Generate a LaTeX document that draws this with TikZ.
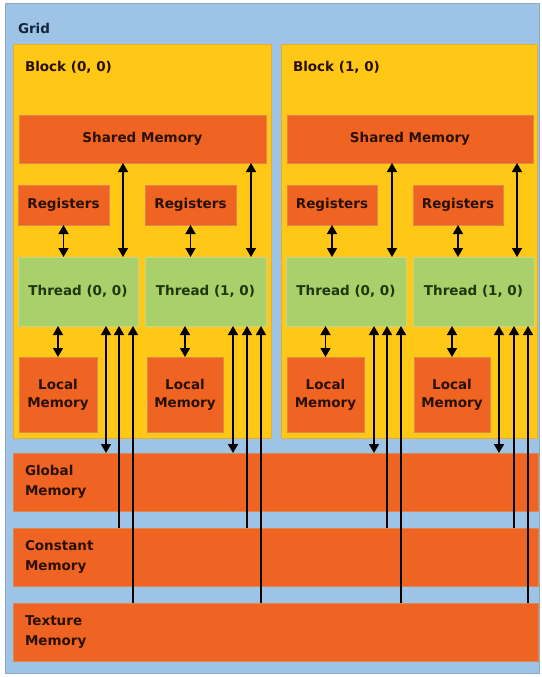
\documentclass[tikz,border=0pt]{standalone}
\usepackage{fontspec}
\setmainfont{DejaVu Sans}
\usetikzlibrary{arrows.meta}
\definecolor{gridblue}{HTML}{9DC3E6}
\definecolor{gridline}{HTML}{8FA9C4}
\definecolor{blockyel}{HTML}{FFC816}
\definecolor{blockline}{HTML}{E0AE30}
\definecolor{memorg}{HTML}{F06423}
\definecolor{memline}{HTML}{E0874E}
\definecolor{thrgrn}{HTML}{A9D06B}
\definecolor{thrline}{HTML}{C2D890}
\definecolor{txtdark}{HTML}{2A1000}
\definecolor{txtgrn}{HTML}{1E380C}
\definecolor{txtnavy}{HTML}{16233A}
\begin{document}
\begin{tikzpicture}[x=1pt,y=-1pt,
  every node/.style={inner sep=0pt,outer sep=0pt,anchor=north west,font=\bfseries\fontsize{13.5}{18}\selectfont},
  gridbox/.style={fill=gridblue,draw=gridline,line width=0.6pt},
  blockbox/.style={fill=blockyel,draw=blockline,line width=0.6pt},
  membox/.style={fill=memorg,draw=memline,line width=0.6pt,text=txtdark,align=center},
  bigmem/.style={fill=memorg,draw=memline,line width=0.6pt,text=txtdark,align=left,
     text width=501pt,minimum width=525pt,minimum height=58pt,font=\bfseries\fontsize{13.5}{20}\selectfont},
  thrbox/.style={fill=thrgrn,draw=thrline,line width=0.6pt,text=txtgrn},
  lbl/.style={anchor=west,text=txtdark},
  both/.style={{Triangle[width=10pt,length=9pt]}-{Triangle[width=10pt,length=9pt]},line width=1.6pt,black},
  up/.style={{Triangle[width=10pt,length=9pt]}-,line width=1.6pt,black}]
\useasboundingbox (0,0) rectangle (541,677);
\fill[white] (0,0) rectangle (541,677);
% grid
\node[gridbox,minimum width=534pt,minimum height=670pt] (grid) at (5,3) {};
\node[lbl,text=txtnavy] (gridlbl) at (18,28) {Grid};
% blocks
\node[blockbox,minimum width=258pt,minimum height=394pt] (blk0) at (13,44) {};
\node[blockbox,minimum width=256pt,minimum height=394pt] (blk1) at (281,44) {};
\node[lbl] (blk0lbl) at (25,67) {Block (0, 0)};
\node[lbl] (blk1lbl) at (293,67) {Block (1, 0)};
% shared memory
\node[membox,minimum width=247pt,minimum height=48pt] (sh0) at (19,115) {Shared Memory};
\node[membox,minimum width=246pt,minimum height=48pt] (sh1) at (287,115) {Shared Memory};
% registers
\node[membox,minimum width=91pt,minimum height=40pt] (reg00) at (18,185) {Registers};
\node[membox,minimum width=91pt,minimum height=40pt] (reg01) at (145,185) {Registers};
\node[membox,minimum width=90pt,minimum height=40pt] (reg10) at (287,185) {Registers};
\node[membox,minimum width=90pt,minimum height=40pt] (reg11) at (413,185) {Registers};
% threads
\node[thrbox,minimum width=120pt,minimum height=69pt] (thr00) at (18,257) {Thread (0, 0)};
\node[thrbox,minimum width=121pt,minimum height=69pt] (thr01) at (145,257) {Thread (1, 0)};
\node[thrbox,minimum width=120pt,minimum height=69pt] (thr10) at (286,257) {Thread (0, 0)};
\node[thrbox,minimum width=121pt,minimum height=69pt] (thr11) at (413,257) {Thread (1, 0)};
% local memory
\node[membox,minimum width=78pt,minimum height=75pt] (loc00) at (19,357) {Local\\Memory};
\node[membox,minimum width=76pt,minimum height=75pt] (loc01) at (147,357) {Local\\Memory};
\node[membox,minimum width=77pt,minimum height=75pt] (loc10) at (287,357) {Local\\Memory};
\node[membox,minimum width=76pt,minimum height=75pt] (loc11) at (414,357) {Local\\Memory};
% device memories
\node[bigmem] (glob) at (13,453) {Global\\Memory};
\node[bigmem] (const) at (13,528) {Constant\\Memory};
\node[bigmem] (tex) at (13,603) {Texture\\Memory};
% connectors
\foreach \t/\r/\l in {thr00/reg00/loc00, thr01/reg01/loc01, thr10/reg10/loc10, thr11/reg11/loc11}{
  \draw[both] (\r.south) -- (\r.south |- \t.north);
  \draw[both] (\l.north) -- (\l.north |- \t.south);
}
\foreach \t/\s/\xs/\xa/\xb/\xc in {thr00/sh0/-15/-32/-19/-5, thr01/sh0/-15/-33/-19/-5,
                                 thr10/sh1/-14/-32/-19/-5, thr11/sh1/-17/-35/-20/-6}{
  \coordinate (\t s) at ([xshift=\xs pt]\t.north east);
  \coordinate (\t a) at ([xshift=\xa pt]\t.south east);
  \coordinate (\t b) at ([xshift=\xb pt]\t.south east);
  \coordinate (\t c) at ([xshift=\xc pt]\t.south east);
  \draw[both] (\t s) -- (\t s |- \s.south);
  \draw[both] (\t a) -- (\t a |- glob.north);
  \draw[up] (\t b) -- (\t b |- const.north);
  \draw[up] (\t c) -- (\t c |- tex.north);
}
\end{tikzpicture}
\end{document}
